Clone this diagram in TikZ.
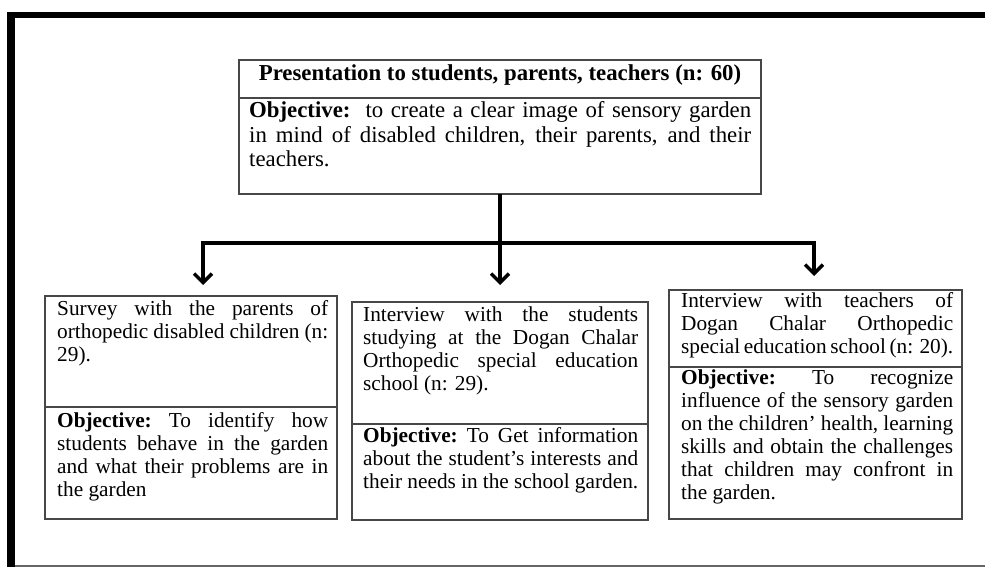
\documentclass[tikz,border=0pt]{standalone}
\usepackage{fontspec}
\setmainfont{Liberation Serif}
\usetikzlibrary{arrows.meta,calc}
\newcommand{\lowfont}{\fontsize{21.3}{23}\selectfont}
\newcommand{\topfont}{\fontsize{22.8}{24.5}\selectfont}
\newcommand{\jline}[1]{\makebox[\linewidth][s]{#1}}
\newcommand{\obj}{\textbf{Objective:}}

\begin{document}
\begin{tikzpicture}[x=1pt,y=-1pt,
  part/.style={draw=black!72, line width=2pt, rectangle, inner sep=0pt, outer sep=0pt, anchor=north west},
  txt/.style={inner sep=0pt, anchor=base west, font=\lowfont},
  link/.style={line width=3.5pt, black},
  tip/.style={link, -{Straight Barb[length=9pt,width=18pt]}},
]
\useasboundingbox (0,0) rectangle (985,567);

% page frame
\draw[line width=6.5pt] (7,15) -- (985,15);
\draw[line width=8pt] (11,11.75) -- (11,567);
\draw[black!60, line width=1.5pt] (15,566) -- (985,566);

% boxes: upper part (title / description) and lower part (objective)
\node[part, minimum width=522pt, minimum height=38pt]  (tu) at (239,60)  {};
\node[part, minimum width=522pt, minimum height=96pt]  (tl) at (239,98)  {};
\node[part, minimum width=292pt, minimum height=111pt] (lu) at (45,296)  {};
\node[part, minimum width=292pt, minimum height=112pt] (ll) at (45,407)  {};
\node[part, minimum width=296pt, minimum height=122pt] (mu) at (352,302) {};
\node[part, minimum width=296pt, minimum height=96pt]  (ml) at (352,424) {};
\node[part, minimum width=293pt, minimum height=77pt]  (ru) at (669,290) {};
\node[part, minimum width=293pt, minimum height=152pt] (rl) at (669,367) {};

% texts
\node[anchor=base, inner sep=0pt, font=\topfont\bfseries] (tut) at (500,81)
  {Presentation to students, parents, teachers (n: 60)};
\node[txt, font=\topfont] (tlt) at (249,118) {\parbox[t]{502pt}{%
  \jline{\obj\ \ to create a clear image of sensory garden}\\
  \jline{in mind of disabled children, their parents, and their}\\
  teachers.}};

\node[txt] (lut) at (57,315) {\parbox[t]{271pt}{%
  \jline{Survey with the parents of}\\
  \jline{orthopedic disabled children (n:}\\
  29).}};
\node[txt] (llt) at (57,427) {\parbox[t]{271pt}{%
  \jline{\obj\ To identify how}\\
  \jline{students behave in the garden}\\
  \jline{and what their problems are in}\\
  the garden}};

\node[txt] (mut) at (363,321) {\parbox[t]{275pt}{%
  \jline{Interview with the students}\\
  \jline{studying at the Dogan Chalar}\\
  \jline{Orthopedic special education}\\
  school (n: 29).}};
\node[txt] (mlt) at (363,442) {\parbox[t]{275pt}{%
  \jline{\obj\ To Get information}\\
  \jline{about the student’s interests and}\\
  their needs in the school garden.}};

\node[txt] (rut) at (681,307) {\parbox[t]{272pt}{%
  \jline{Interview with teachers of}\\
  \jline{Dogan Chalar Orthopedic}\\
  \jline{special education school (n: 20).}}};
\node[txt] (rlt) at (681,384) {\parbox[t]{272pt}{%
  \jline{\obj\ To recognize}\\
  \jline{influence of the sensory garden}\\
  \jline{on the children’ health, learning}\\
  \jline{skills and obtain the challenges}\\
  \jline{that children may confront in}\\
  the garden.}};

% connectors
\coordinate (j)  at (500,243);
\coordinate (la) at (203,285);
\coordinate (ma) at (500,285);
\coordinate (ra) at (814,276);
\draw[tip] (tl.south) -- (ma);
\draw[tip] (j) -| (la);
\draw[tip] (j) -| (ra);
\end{tikzpicture}
\end{document}
